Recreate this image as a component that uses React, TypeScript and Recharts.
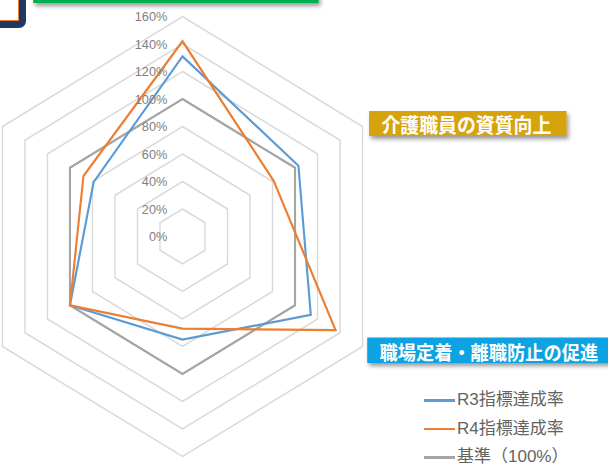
import React from 'react';
import { RadarChart, PolarGrid, PolarAngleAxis, PolarRadiusAxis, Radar, Legend } from 'recharts';

const categories = [
  '介護人材の参入促進',
  '介護職員の資質向上',
  '職場定着・離職防止の促進',
  '介護現場の生産性向上',
  '多様な人材の確保',
  '介護職のイメージアップ',
];
const r3Values = [131, 103, 114, 75, 100, 79];
const r4Values = [142, 81, 136, 67, 100, 88];
const baseValues = [100, 100, 100, 100, 100, 100];
const seriesNames = ['R3指標達成率', 'R4指標達成率', '基準（100%）'];
const seriesColors = ['#5B9BD5', '#ED7D31', '#A5A5A5'];

const data = categories.map((c, i) => ({
  cat: c,
  r3: r3Values[i],
  r4: r4Values[i],
  base: baseValues[i],
}));

// label box styles per category index (offsets relative to the tick anchor)
const boxStyles = [
  { fill: '#00B050', dx: -158, dy: -35.5, w: 302, h: 30, fs: 20 },
  { fill: '#D6A30C', dx: 0, dy: -11.5, w: 209, h: 25, fs: 20 },
  { fill: '#0AA3E2', dx: -2, dy: -13, w: 265, h: 25.5, fs: 19.3 },
  { fill: '#7030A0', dx: -140, dy: 6, w: 280, h: 26, fs: 20 },
  { fill: '#C00000', dx: -260, dy: -13, w: 262, h: 26, fs: 20 },
  { fill: '#1F3864', dx: -260, dy: -13, w: 262, h: 26, fs: 20 },
];

const AngleTick = (props: any) => {
  const { x, y, payload } = props;
  const idx = categories.indexOf(payload.value);
  const b = boxStyles[idx] || boxStyles[0];
  const fid = `shadow-${idx}`;
  const rx = x + b.dx;
  const ry = y + b.dy;
  return (
    <g>
      <defs>
        <filter id={fid} x="-10%" y="-40%" width="130%" height="200%">
          <feDropShadow dx="2" dy="3" stdDeviation="2" floodColor="#000" floodOpacity="0.4" />
        </filter>
      </defs>
      <rect x={rx} y={ry} width={b.w} height={b.h} fill={b.fill} filter={`url(#${fid})`} />
      <text
        x={rx + 13}
        y={ry + b.h / 2 + 1}
        textAnchor="start"
        dominantBaseline="central"
        fill="#ffffff"
        fontSize={b.fs}
        fontWeight="bold"
        fontFamily="'Noto Sans CJK JP', sans-serif"
      >
        {payload.value}
      </text>
    </g>
  );
};

const RadiusTick = (props: any) => {
  const { x, y, payload } = props;
  return (
    <text
      x={x - 16}
      y={y}
      textAnchor="end"
      dominantBaseline="central"
      fill="#7F7F7F"
      fontSize={13.5}
      fontFamily="'Liberation Sans', Arial, sans-serif"
    >
      {`${payload.value}%`}
    </text>
  );
};

const LegendContent = () => (
  <div style={{ fontFamily: "'Liberation Sans', 'Noto Sans CJK JP', sans-serif", fontSize: 17, color: '#636363' }}>
    {seriesNames.map((n, i) => (
      <div key={n} style={{ display: 'flex', alignItems: 'center', height: 28.5 }}>
        <span style={{ display: 'inline-block', width: 31, height: 2.5, background: seriesColors[i], marginRight: 2 }} />
        <span style={{ lineHeight: '28.5px' }}>{n}</span>
      </div>
    ))}
  </div>
);

export default function App() {
  return (
    <div
      className="radar-wrap"
      style={{ position: 'fixed', left: 0, top: 0, width: 608, height: 465, overflow: 'hidden', background: '#ffffff' }}
    >
      <style>{`.radar-wrap .recharts-wrapper > svg { transform: scaleX(0.945); transform-origin: 182.5px 0px; overflow: visible; }`}</style>
      <RadarChart
        width={608}
        height={465}
        cx={182.5}
        cy={236.5}
        outerRadius={220}
        data={data}
        margin={{ top: 0, right: 0, bottom: 0, left: 0 }}
      >
        <PolarGrid gridType="polygon" radialLines={false} stroke="#D9D9D9" strokeWidth={1.5} />
        <PolarAngleAxis dataKey="cat" tick={<AngleTick />} tickLine={false} axisLine={false} />
        <PolarRadiusAxis
          angle={90}
          domain={[0, 160]}
          tickCount={9}
          type="number"
          axisLine={false}
          tickLine={false}
          tick={<RadiusTick />}
        />
        <Radar name={seriesNames[2]} dataKey="base" stroke={seriesColors[2]} strokeWidth={2.25} fill="none" fillOpacity={0} dot={false} isAnimationActive={false} />
        <Radar name={seriesNames[0]} dataKey="r3" stroke={seriesColors[0]} strokeWidth={2.25} fill="none" fillOpacity={0} dot={false} isAnimationActive={false} />
        <Radar name={seriesNames[1]} dataKey="r4" stroke={seriesColors[1]} strokeWidth={2.25} fill="none" fillOpacity={0} dot={false} isAnimationActive={false} />
        <Legend
          content={<LegendContent />}
          wrapperStyle={{ position: 'absolute', left: 424, top: 386, width: 184, height: 86, bottom: 'auto', right: 'auto' }}
        />
      </RadarChart>
      <div
        style={{
          position: 'absolute',
          left: -60,
          top: -40,
          width: 86,
          height: 68,
          boxSizing: 'border-box',
          border: '7px solid #1F3864',
          borderRadius: 7,
          background: '#ffffff',
          boxShadow: 'inset 0 0 0 1px #ED7D31',
        }}
      />
    </div>
  );
}
